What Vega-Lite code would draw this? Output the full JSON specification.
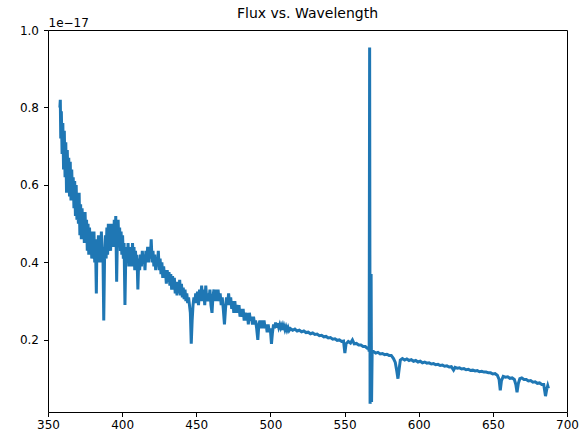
{
  "$schema": "https://vega.github.io/schema/vega-lite/v6.json",
  "autosize": "none",
  "width": 519,
  "height": 382,
  "padding": {"left": 48, "top": 30, "right": 17, "bottom": 27},
  "background": "white",
  "title": {"text": "Flux vs. Wavelength", "anchor": "middle", "frame": "group", "fontSize": 14, "fontWeight": "normal", "font": "DejaVu Sans", "color": "black", "baseline": "alphabetic", "offset": -16},
  "config": {
    "view": {"stroke": "black", "strokeWidth": 1},
    "axis": {"grid": false, "domain": false, "tickColor": "black", "tickSize": 4.5, "labelFont": "DejaVu Sans", "labelFontSize": 12, "labelColor": "black", "titleFont": "DejaVu Sans", "titleFontSize": 12, "titleFontWeight": "normal", "titleColor": "black"}
  },
  "data": {"values": [
    {"w":358.0,"f":0.80},{"w":358.3,"f":0.82},{"w":358.6,"f":0.72},{"w":359.0,"f":0.79},{"w":359.5,"f":0.68},{"w":360.0,"f":0.76},{"w":360.5,"f":0.64},{"w":361.0,"f":0.74},{"w":361.5,"f":0.62},{"w":362.0,"f":0.71},{"w":362.5,"f":0.58},{"w":363.0,"f":0.69},{"w":363.5,"f":0.60},{"w":364.0,"f":0.67},{"w":364.5,"f":0.57},{"w":365.0,"f":0.66},{"w":365.5,"f":0.56},{"w":366.0,"f":0.64},{"w":366.5,"f":0.57},{"w":367.0,"f":0.62},{"w":367.5,"f":0.54},{"w":368.0,"f":0.61},{"w":368.5,"f":0.52},{"w":369.0,"f":0.60},{"w":369.5,"f":0.51},{"w":370.0,"f":0.57},{"w":370.5,"f":0.50},{"w":371.0,"f":0.58},{"w":371.5,"f":0.47},{"w":372.0,"f":0.55},{"w":372.5,"f":0.46},{"w":373.0,"f":0.54},{"w":373.5,"f":0.47},{"w":374.0,"f":0.52},{"w":374.5,"f":0.45},{"w":375.0,"f":0.53},{"w":375.5,"f":0.46},{"w":376.0,"f":0.51},{"w":376.5,"f":0.43},{"w":377.0,"f":0.50},{"w":377.5,"f":0.42},{"w":378.0,"f":0.49},{"w":378.5,"f":0.43},{"w":379.0,"f":0.48},{"w":379.5,"f":0.41},{"w":380.0,"f":0.47},{"w":380.5,"f":0.42},{"w":381.0,"f":0.48},{"w":381.5,"f":0.40},{"w":382.0,"f":0.46},{"w":382.6,"f":0.32},{"w":383.0,"f":0.45},{"w":383.5,"f":0.42},{"w":384.0,"f":0.47},{"w":384.5,"f":0.40},{"w":385.0,"f":0.46},{"w":385.5,"f":0.41},{"w":386.0,"f":0.48},{"w":386.5,"f":0.40},{"w":387.0,"f":0.44},{"w":387.6,"f":0.25},{"w":388.2,"f":0.43},{"w":388.7,"f":0.47},{"w":389.2,"f":0.41},{"w":389.7,"f":0.49},{"w":390.2,"f":0.42},{"w":390.7,"f":0.50},{"w":391.2,"f":0.44},{"w":391.7,"f":0.49},{"w":392.2,"f":0.43},{"w":392.7,"f":0.50},{"w":393.2,"f":0.45},{"w":393.7,"f":0.49},{"w":394.2,"f":0.44},{"w":394.7,"f":0.51},{"w":395.2,"f":0.45},{"w":395.7,"f":0.52},{"w":396.3,"f":0.35},{"w":396.8,"f":0.47},{"w":397.3,"f":0.51},{"w":397.8,"f":0.44},{"w":398.3,"f":0.49},{"w":398.8,"f":0.43},{"w":399.3,"f":0.48},{"w":399.8,"f":0.42},{"w":400.3,"f":0.47},{"w":400.8,"f":0.41},{"w":401.3,"f":0.45},{"w":401.9,"f":0.29},{"w":402.5,"f":0.43},{"w":403.0,"f":0.44},{"w":403.5,"f":0.40},{"w":404.0,"f":0.45},{"w":404.5,"f":0.39},{"w":405.0,"f":0.44},{"w":405.5,"f":0.41},{"w":406.0,"f":0.44},{"w":406.5,"f":0.39},{"w":407.0,"f":0.45},
    {"w":407.5,"f":0.40},{"w":408.0,"f":0.44},{"w":408.5,"f":0.38},{"w":409.0,"f":0.43},{"w":409.5,"f":0.39},{"w":410.0,"f":0.42},{"w":410.6,"f":0.33},{"w":411.2,"f":0.41},{"w":411.8,"f":0.38},{"w":412.4,"f":0.42},{"w":413.0,"f":0.39},{"w":413.6,"f":0.43},{"w":414.2,"f":0.40},{"w":414.8,"f":0.42},{"w":415.4,"f":0.38},{"w":416.0,"f":0.43},{"w":416.6,"f":0.40},{"w":417.2,"f":0.44},{"w":417.8,"f":0.40},{"w":418.4,"f":0.44},{"w":419.0,"f":0.41},{"w":419.6,"f":0.46},{"w":420.2,"f":0.40},{"w":420.8,"f":0.43},{"w":421.4,"f":0.39},{"w":422.0,"f":0.42},{"w":422.6,"f":0.38},{"w":423.2,"f":0.41},{"w":423.8,"f":0.39},{"w":424.4,"f":0.43},{"w":425.0,"f":0.38},{"w":425.6,"f":0.41},{"w":426.2,"f":0.37},{"w":426.8,"f":0.40},{"w":427.4,"f":0.36},{"w":428.0,"f":0.39},{"w":428.6,"f":0.36},{"w":429.2,"f":0.38},{"w":429.8,"f":0.345},{"w":430.4,"f":0.38},{"w":431.0,"f":0.35},{"w":431.6,"f":0.375},{"w":432.2,"f":0.34},{"w":432.8,"f":0.37},{"w":433.4,"f":0.33},{"w":434.0,"f":0.365},{"w":434.6,"f":0.33},{"w":435.2,"f":0.36},{"w":435.8,"f":0.32},{"w":436.4,"f":0.35},{"w":437.0,"f":0.315},{"w":437.6,"f":0.35},{"w":438.2,"f":0.32},{"w":438.8,"f":0.355},{"w":439.4,"f":0.315},{"w":440.0,"f":0.345},{"w":440.6,"f":0.31},{"w":441.2,"f":0.335},{"w":441.8,"f":0.305},{"w":442.4,"f":0.33},{"w":443.0,"f":0.30},{"w":443.6,"f":0.32},{"w":444.2,"f":0.295},{"w":444.8,"f":0.31},{"w":445.4,"f":0.29},{"w":446.0,"f":0.27},{"w":446.6,"f":0.19},{"w":447.2,"f":0.25},{"w":447.8,"f":0.29},{"w":448.4,"f":0.31},{"w":449.0,"f":0.295},{"w":449.6,"f":0.32},{"w":450.2,"f":0.295},{"w":450.8,"f":0.325},
    {"w":451.5,"f":0.29},{"w":452.2,"f":0.33},{"w":452.9,"f":0.30},{"w":453.6,"f":0.34},{"w":454.3,"f":0.30},{"w":455.0,"f":0.33},{"w":455.7,"f":0.29},{"w":456.4,"f":0.34},{"w":457.1,"f":0.30},{"w":457.8,"f":0.32},{"w":458.5,"f":0.30},{"w":459.2,"f":0.33},{"w":459.9,"f":0.29},{"w":460.6,"f":0.27},{"w":461.2,"f":0.31},{"w":461.9,"f":0.33},{"w":462.6,"f":0.30},{"w":463.3,"f":0.33},{"w":464.0,"f":0.30},{"w":464.7,"f":0.33},{"w":465.4,"f":0.30},{"w":466.1,"f":0.32},{"w":466.8,"f":0.29},{"w":467.5,"f":0.31},{"w":468.2,"f":0.28},{"w":469.0,"f":0.24},{"w":469.7,"f":0.28},{"w":470.4,"f":0.31},{"w":471.1,"f":0.29},{"w":471.8,"f":0.32},{"w":472.5,"f":0.29},{"w":473.2,"f":0.31},{"w":473.9,"f":0.28},{"w":474.6,"f":0.30},{"w":475.3,"f":0.27},{"w":476.0,"f":0.30},{"w":476.7,"f":0.27},{"w":477.4,"f":0.29},{"w":478.1,"f":0.27},{"w":478.8,"f":0.29},{"w":479.5,"f":0.26},{"w":480.2,"f":0.28},{"w":480.9,"f":0.26},{"w":481.6,"f":0.28},{"w":482.3,"f":0.25},{"w":483.0,"f":0.27},{"w":483.7,"f":0.25},{"w":484.4,"f":0.27},{"w":485.1,"f":0.24},{"w":485.8,"f":0.27},{"w":486.5,"f":0.25},{"w":487.2,"f":0.26},{"w":487.9,"f":0.24},{"w":488.6,"f":0.26},{"w":489.3,"f":0.24},{"w":490.0,"f":0.25},{"w":490.7,"f":0.23},{"w":491.5,"f":0.20},{"w":492.2,"f":0.24},{"w":492.9,"f":0.25},{"w":493.6,"f":0.23},{"w":494.3,"f":0.25},{"w":495.0,"f":0.23},{"w":495.7,"f":0.25},{"w":496.4,"f":0.23},{"w":497.1,"f":0.24},{"w":497.8,"f":0.22},{"w":498.5,"f":0.24},{"w":499.2,"f":0.22},{"w":499.9,"f":0.23},{"w":500.7,"f":0.19},{"w":501.4,"f":0.22},{"w":502.1,"f":0.24},{"w":502.8,"f":0.23},{"w":503.5,"f":0.245},{"w":504.2,"f":0.232},{"w":504.9,"f":0.243},{"w":505.6,"f":0.232},{"w":506.3,"f":0.24},{"w":507.0,"f":0.231},{"w":507.7,"f":0.238},{"w":508.4,"f":0.226},{"w":509.1,"f":0.236},{"w":509.8,"f":0.226},{"w":510.5,"f":0.234},{"w":511.2,"f":0.225},{"w":511.9,"f":0.232},{"w":512.6,"f":0.224},
    {"w":513.5,"f":0.229},{"w":515.0,"f":0.225},{"w":516.5,"f":0.228},{"w":518.0,"f":0.223},{"w":519.5,"f":0.225},{"w":521.0,"f":0.221},{"w":522.5,"f":0.223},{"w":524.0,"f":0.219},{"w":525.5,"f":0.220},{"w":527.0,"f":0.216},{"w":528.5,"f":0.218},{"w":530.0,"f":0.214},{"w":531.5,"f":0.215},{"w":533.0,"f":0.211},{"w":534.5,"f":0.212},{"w":536.0,"f":0.208},{"w":537.5,"f":0.209},{"w":539.0,"f":0.205},{"w":540.5,"f":0.206},{"w":542.0,"f":0.202},{"w":543.5,"f":0.203},{"w":545.0,"f":0.199},{"w":546.5,"f":0.200},{"w":548.0,"f":0.196},{"w":549.3,"f":0.197},{"w":550.2,"f":0.166},{"w":551.0,"f":0.190},{"w":552.5,"f":0.196},{"w":554.0,"f":0.192},{"w":555.3,"f":0.200},{"w":556.5,"f":0.190},{"w":558.0,"f":0.191},{"w":559.5,"f":0.187},{"w":561.0,"f":0.187},{"w":562.5,"f":0.183},{"w":564.0,"f":0.183},{"w":565.2,"f":0.179},{"w":566.2,"f":0.180},
    {"w":566.6,"f":0.17},{"w":566.9,"f":0.955},{"w":567.2,"f":0.035},{"w":567.6,"f":0.20},{"w":567.9,"f":0.37},{"w":568.2,"f":0.04},{"w":568.6,"f":0.17},
    {"w":569.5,"f":0.170},{"w":571.0,"f":0.166},{"w":572.5,"f":0.168},{"w":574.0,"f":0.164},{"w":575.5,"f":0.165},{"w":577.0,"f":0.162},{"w":578.5,"f":0.163},{"w":580.0,"f":0.160},{"w":581.5,"f":0.160},{"w":583.0,"f":0.152},{"w":584.2,"f":0.142},{"w":585.2,"f":0.120},{"w":586.0,"f":0.100},{"w":586.8,"f":0.125},{"w":587.6,"f":0.148},{"w":589.0,"f":0.152},{"w":590.5,"f":0.148},{"w":592.0,"f":0.151},{"w":593.5,"f":0.147},{"w":595.0,"f":0.149},{"w":596.5,"f":0.145},{"w":598.0,"f":0.147},{"w":599.5,"f":0.143},{"w":601.0,"f":0.145},{"w":602.5,"f":0.141},{"w":604.0,"f":0.143},{"w":605.5,"f":0.140},{"w":607.0,"f":0.141},{"w":608.5,"f":0.138},{"w":610.0,"f":0.139},{"w":611.5,"f":0.136},{"w":613.0,"f":0.137},{"w":614.5,"f":0.134},{"w":616.0,"f":0.135},{"w":617.5,"f":0.132},{"w":619.0,"f":0.133},{"w":620.5,"f":0.130},{"w":622.0,"f":0.131},{"w":623.5,"f":0.122},{"w":624.5,"f":0.129},{"w":626.0,"f":0.127},{"w":627.5,"f":0.128},{"w":629.0,"f":0.125},{"w":630.5,"f":0.126},{"w":632.0,"f":0.123},{"w":633.5,"f":0.124},{"w":635.0,"f":0.121},{"w":636.5,"f":0.122},{"w":638.0,"f":0.120},{"w":639.5,"f":0.121},{"w":641.0,"f":0.118},{"w":642.5,"f":0.119},{"w":644.0,"f":0.117},{"w":645.5,"f":0.117},{"w":647.0,"f":0.115},{"w":648.5,"f":0.115},{"w":650.0,"f":0.112},{"w":651.5,"f":0.113},{"w":653.0,"f":0.109},{"w":654.2,"f":0.098},{"w":655.0,"f":0.070},{"w":655.8,"f":0.095},{"w":657.0,"f":0.106},{"w":658.5,"f":0.104},{"w":660.0,"f":0.105},{"w":661.5,"f":0.101},{"w":663.0,"f":0.102},{"w":664.5,"f":0.098},{"w":665.5,"f":0.085},{"w":666.3,"f":0.065},{"w":667.2,"f":0.088},{"w":668.2,"f":0.100},{"w":669.5,"f":0.102},{"w":671.0,"f":0.098},{"w":672.5,"f":0.098},{"w":674.0,"f":0.094},{"w":675.5,"f":0.095},{"w":677.0,"f":0.091},{"w":678.5,"f":0.092},{"w":680.0,"f":0.088},{"w":681.5,"f":0.089},{"w":683.0,"f":0.085},{"w":684.3,"f":0.085},{"w":685.5,"f":0.055},{"w":686.3,"f":0.072},{"w":687.0,"f":0.082},{"w":687.5,"f":0.075}
  ]},
  "mark": {"type": "line", "color": "#1f77b4", "strokeWidth": 3, "clip": true},
  "encoding": {
    "x": {"field": "w", "type": "quantitative", "scale": {"domain": [350, 700], "nice": false, "zero": false},
      "axis": {"title": null, "values": [350, 400, 450, 500, 550, 600, 650, 700], "labelPadding": 3, "labelFlush": false}},
    "y": {"field": "f", "type": "quantitative", "scale": {"domain": [0.014, 1.0], "nice": false, "zero": false},
      "axis": {"title": "1e\u221217", "values": [0.2, 0.4, 0.6, 0.8, 1.0], "format": ".1f", "labelPadding": 5, "titleAngle": 0, "titleX": 0, "titleY": -4, "titleAlign": "left", "titleBaseline": "alphabetic"}}
  }
}
